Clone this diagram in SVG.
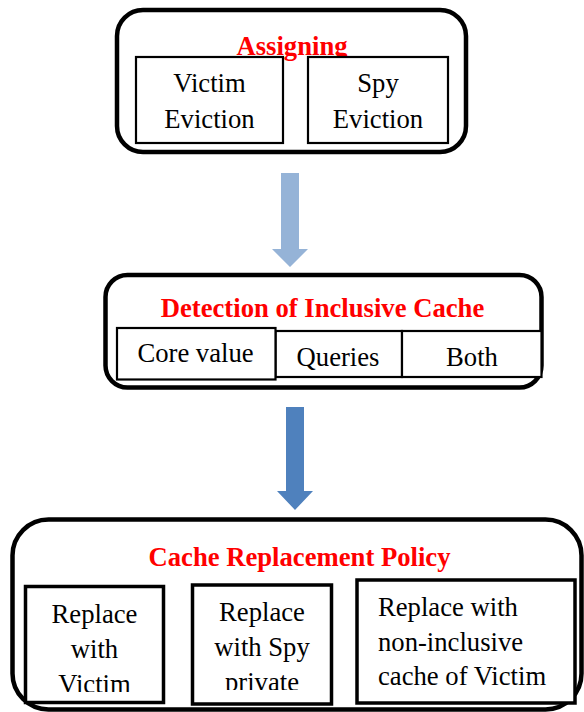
<svg xmlns="http://www.w3.org/2000/svg" width="584" height="712" viewBox="0 0 584 712">
  <style>
    .frame { fill: #ffffff; stroke: #000000; stroke-width: 4.5; }
    .cell { fill: #ffffff; stroke: #000000; stroke-width: 2.2; }
    .cellb { fill: #ffffff; stroke: #000000; stroke-width: 3.5; }
    .title { font-family: "Liberation Serif", "Times New Roman", serif; font-size: 26.67px; font-weight: bold; fill: #ff0000; text-anchor: middle; }
    .label { font-family: "Liberation Serif", "Times New Roman", serif; font-size: 26.67px; fill: #000000; text-anchor: middle; }
    .left { text-anchor: start; }
  </style>
  <defs>
    <clipPath id="clip-victim"><rect x="27" y="589" width="135" height="103"/></clipPath>
    <clipPath id="clip-spy"><rect x="194" y="587" width="136" height="103"/></clipPath>
  </defs>
  <rect width="584" height="712" fill="#ffffff"/>

  <!-- Stage 1: assigning -->
  <g id="assigning">
    <rect class="frame" x="117" y="10" width="349" height="142" rx="26" ry="26"/>
    <text class="title" x="292" y="55">Assigning</text>
    <g id="victim-eviction">
      <rect class="cell" x="136" y="57" width="147" height="86"/>
      <text class="label" x="209.5" y="92">Victim</text>
      <text class="label" x="209.5" y="128">Eviction</text>
    </g>
    <g id="spy-eviction">
      <rect class="cell" x="308" y="57" width="140" height="86"/>
      <text class="label" x="378" y="92">Spy</text>
      <text class="label" x="378" y="128">Eviction</text>
    </g>
  </g>

  <!-- Stage 2: detection -->
  <g id="detection">
    <rect class="frame" x="105.5" y="275" width="436" height="112.5" rx="22" ry="22"/>
    <text class="title" x="322.5" y="317">Detection of Inclusive Cache</text>
    <g id="queries">
      <rect class="cell" x="275.5" y="331" width="126.5" height="46"/>
      <text class="label" x="338" y="366">Queries</text>
    </g>
    <g id="both">
      <rect class="cell" x="402" y="331" width="139.5" height="46"/>
      <text class="label" x="472" y="366">Both</text>
    </g>
    <g id="core-value">
      <rect class="cell" x="117" y="328" width="158.5" height="51.5" stroke-width="2.6"/>
      <text class="label" x="195.5" y="362">Core value</text>
    </g>
  </g>

  <!-- Stage 3: replacement policy -->
  <g id="replacement">
    <rect class="frame" x="12.5" y="519.5" width="569" height="190" rx="36" ry="36" stroke-width="4"/>
    <text class="title" x="299.5" y="566">Cache Replacement Policy</text>
    <g id="replace-victim">
      <rect class="cellb" x="25.5" y="586.5" width="138" height="116"/>
      <g clip-path="url(#clip-victim)">
        <text class="label" x="94.5" y="623">Replace</text>
        <text class="label" x="94.5" y="658">with</text>
        <text class="label" x="94.5" y="693">Victim</text>
      </g>
    </g>
    <g id="replace-spy">
      <rect class="cellb" x="192.5" y="585" width="139" height="119"/>
      <g clip-path="url(#clip-spy)">
        <text class="label" x="262" y="621">Replace</text>
        <text class="label" x="262" y="656">with Spy</text>
        <text class="label" x="262" y="691">private</text>
      </g>
    </g>
    <g id="replace-noninclusive">
      <rect class="cellb" x="357" y="580" width="218" height="123"/>
      <text class="label left" x="378" y="616">Replace with</text>
      <text class="label left" x="378" y="651">non-inclusive</text>
      <text class="label left" x="378" y="685">cache of Victim</text>
    </g>
  </g>

  <!-- Block arrows between stages -->
  <g id="connectors">
    <polygon fill="#95b3d7" points="281,173 299,173 299,249 308,249 290,267 272,249 281,249"/>
    <polygon fill="#4f81bd" points="286,407 304,407 304,491 313,491 295,510 277,491 286,491"/>
  </g>
</svg>
